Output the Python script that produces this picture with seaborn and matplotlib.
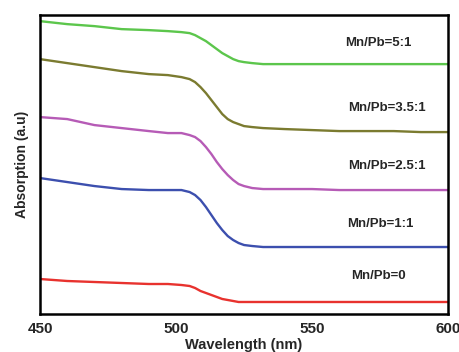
import pandas as pd
import numpy as np
import matplotlib
matplotlib.use('Agg')
import matplotlib.pyplot as plt
import seaborn as sns

wavelength = [450, 460, 470, 480, 490, 497, 502, 505, 507, 509, 511, 513, 515, 517,
              519, 521, 523, 525, 528, 532, 540, 550, 560, 570, 580, 590, 600]

abs_5_1 = [293, 290, 288, 285, 284, 283, 282, 281, 279, 276, 273, 269, 265, 261,
           258, 255, 253, 252, 251, 250, 250, 250, 250, 250, 250, 250, 250]
abs_3_5_1 = [255, 251, 247, 243, 240, 239, 237, 235, 232, 227, 221, 214, 207, 200,
             195, 192, 190, 188, 187, 186, 185, 184, 183, 183, 183, 182, 182]
abs_2_5_1 = [197, 195, 189, 186, 183, 181, 181, 179, 177, 173, 167, 160, 152, 145,
             139, 134, 130, 128, 126, 125, 125, 125, 124, 124, 124, 124, 124]
abs_1_1 = [136, 132, 128, 125, 124, 124, 124, 122, 119, 114, 107, 99, 91, 84,
           78, 74, 71, 69, 68, 67, 67, 67, 67, 67, 67, 67, 67]
abs_0 = [35, 33, 32, 31, 30, 30, 29, 28, 26, 23, 21, 19, 17, 15,
         14, 13, 12, 12, 12, 12, 12, 12, 12, 12, 12, 12, 12]

labels = ['Mn/Pb=5:1', 'Mn/Pb=3.5:1', 'Mn/Pb=2.5:1', 'Mn/Pb=1:1', 'Mn/Pb=0']
label_x = [574.3, 577.6, 577.6, 575.0, 574.3]
label_y = [271, 206, 148, 90, 38]
colors = ['#5cc64c', '#7b7b30', '#b65bb6', '#3c4fae', '#e8322e']

series = [abs_5_1, abs_3_5_1, abs_2_5_1, abs_1_1, abs_0]
df = pd.concat([pd.DataFrame({'wl': wavelength, 'absorb': s, 'sample': lab})
                for s, lab in zip(series, labels)], ignore_index=True)

sns.set_style('white')
plt.rcParams['font.family'] = ['Liberation Sans', 'DejaVu Sans']

fig, ax = plt.subplots(figsize=(4.6, 3.52), dpi=100)
sns.lineplot(data=df, x='wl', y='absorb', hue='sample', palette=colors,
             linewidth=1.7, legend=False, ax=ax)

for lab, x, y in zip(labels, label_x, label_y):
    ax.text(x, y, lab, ha='center', va='center', fontsize=9.5, fontweight='bold')

ax.set_xlim(450, 600)
ax.set_ylim(0, 299)
ax.set_xticks([450, 500, 550, 600])
ax.set_yticks([])
ax.tick_params(axis='x', direction='in', length=5, width=1.5, labelsize=11, pad=6)
for t in ax.get_xticklabels():
    t.set_fontweight('bold')
for sp in ax.spines.values():
    sp.set_linewidth(1.8)
    sp.set_color('black')
ax.set_xlabel('Wavelength (nm)', fontsize=10.5, fontweight='bold', labelpad=1)
ax.set_ylabel('Absorption (a.u)', fontsize=10, fontweight='bold', labelpad=8)

fig.subplots_adjust(left=0.087, right=0.974, top=0.957, bottom=0.108)
fig.savefig('out.png', dpi=100)
